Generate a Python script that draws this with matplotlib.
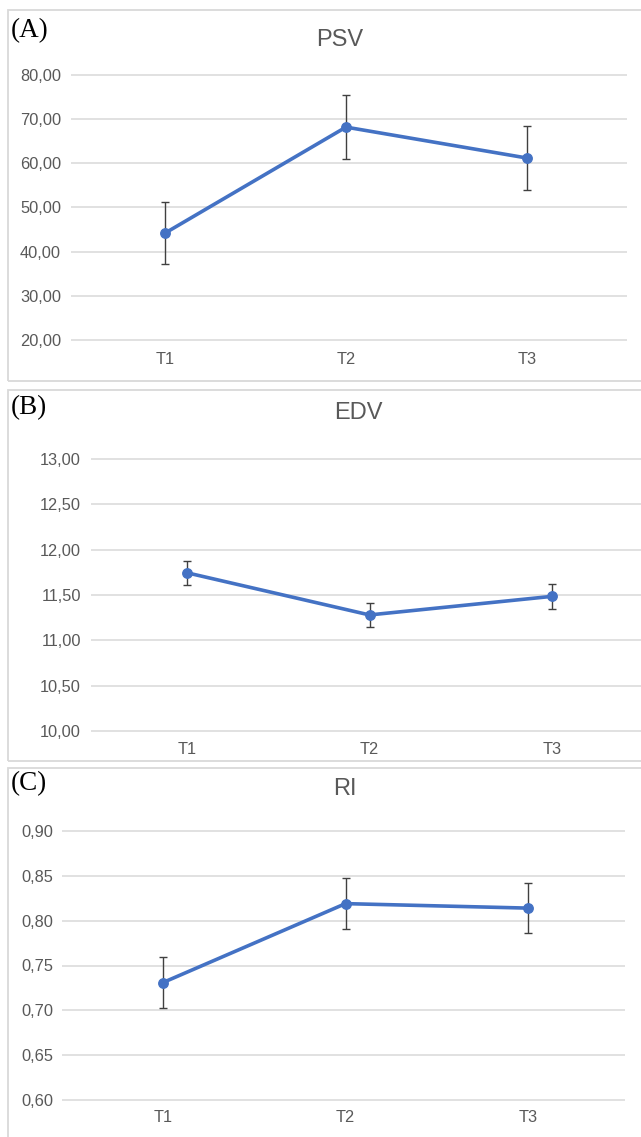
import matplotlib
matplotlib.use("Agg")
import matplotlib.pyplot as plt
from matplotlib.patches import Rectangle
from matplotlib.ticker import FuncFormatter

W, H = 641, 1137
DPI = 100

categories = ["T1", "T2", "T3"]

psv_mean = [44.2, 68.2, 61.2]
psv_err = [7.1, 7.2, 7.2]
psv_ticks = [20, 30, 40, 50, 60, 70, 80]

edv_mean = [11.745, 11.28, 11.485]
edv_err = [0.135, 0.13, 0.135]
edv_ticks = [10.0, 10.5, 11.0, 11.5, 12.0, 12.5, 13.0]

ri_mean = [0.731, 0.819, 0.814]
ri_err = [0.0285, 0.0285, 0.028]
ri_ticks = [0.60, 0.65, 0.70, 0.75, 0.80, 0.85, 0.90]

titles = ["PSV", "EDV", "RI"]
letters = ["(A)", "(B)", "(C)"]

LINE = "#4472C4"
GRID = "#d9d9d9"
TXT = "#595959"
ERR = "#404040"
FONT = ["Liberation Sans", "DejaVu Sans"]

fig = plt.figure(figsize=(W / DPI, H / DPI), dpi=DPI)


def px2fx(x):
    return x / W


def px2fy(y):
    return 1 - y / H


# panel borders (pixel coords: left, top, right, bottom)
panels = [(8, 10, 700, 381), (8, 390, 700, 761), (8, 768, 700, 1200)]
for (l, t, r, b) in panels:
    fig.patches.append(Rectangle((px2fx(l), px2fy(b)), px2fx(r - l), (b - t) / H,
                                 transform=fig.transFigure, fill=False,
                                 edgecolor=GRID, lw=1.3, zorder=0))

# axis geometry: (grid left px, grid right px, tick0 px, tick spacing px, y px at min, y px at max)
geoms = [
    (71, 627, 165, 181, 340, 75),
    (91, 660, 187, 182.5, 731, 459),
    (62, 625, 163, 182.5, 1100, 831),
]
means = [psv_mean, edv_mean, ri_mean]
errs = [psv_err, edv_err, ri_err]
ticks = [psv_ticks, edv_ticks, ri_ticks]
title_pos = [(340, 40), (358, 413), (345, 789)]
letter_pos = [(11, 31), (11, 408), (11, 784)]
xlab_y = [360, 750, 1118]
ylab_right = [61, 81, 53]

for i in range(3):
    gl, gr, t0, sp, ypmin, ypmax = geoms[i]
    yt = ticks[i]
    ymin, ymax = yt[0], yt[-1]
    padpx = 3
    dy = padpx * (ymax - ymin) / (ypmin - ypmax)
    x0 = (gl - t0) / sp
    x1 = (gr - t0) / sp
    ax = fig.add_axes([px2fx(gl), px2fy(ypmin + padpx), px2fx(gr - gl),
                       (ypmin - ypmax + 2 * padpx) / H])
    ax.set_xlim(x0, x1)
    ax.set_ylim(ymin - dy, ymax + dy)
    ax.set_yticks(yt)
    ax.set_xticks(range(len(categories)))
    ax.set_xticklabels(categories)
    ax.yaxis.set_major_formatter(FuncFormatter(lambda v, p: f"{v:.2f}".replace(".", ",")))
    for s in ax.spines.values():
        s.set_visible(False)
    ax.grid(axis="y", color=GRID, lw=1.1)
    ax.set_axisbelow(True)
    ax.tick_params(axis="both", length=0, labelsize=11.8, labelcolor=TXT)
    ax.tick_params(axis="y", pad=(gl - ylab_right[i]) * 72 / DPI)
    ax.tick_params(axis="x", pad=(xlab_y[i] - ypmin - padpx - 8) * 72 / DPI)
    for lab in ax.get_xticklabels() + ax.get_yticklabels():
        lab.set_fontfamily(FONT)
    ax.patch.set_alpha(0)
    ax.errorbar(range(len(categories)), means[i], yerr=errs[i], fmt="none",
                ecolor=ERR, elinewidth=1.0, capsize=3.2, capthick=1.0, zorder=2)
    ax.plot(range(len(categories)), means[i], color=LINE, lw=2.6, marker="o",
            markersize=6.8, zorder=3, solid_capstyle="round")
    fig.text(px2fx(title_pos[i][0]), px2fy(title_pos[i][1]), titles[i],
             ha="center", va="center", fontsize=17, color=TXT, family=FONT)
    fig.text(px2fx(letter_pos[i][0]), px2fy(letter_pos[i][1]), letters[i],
             ha="left", va="center", fontsize=19.5, color="black",
             family=["Liberation Serif", "DejaVu Serif"])

fig.savefig("out.png", dpi=DPI)
